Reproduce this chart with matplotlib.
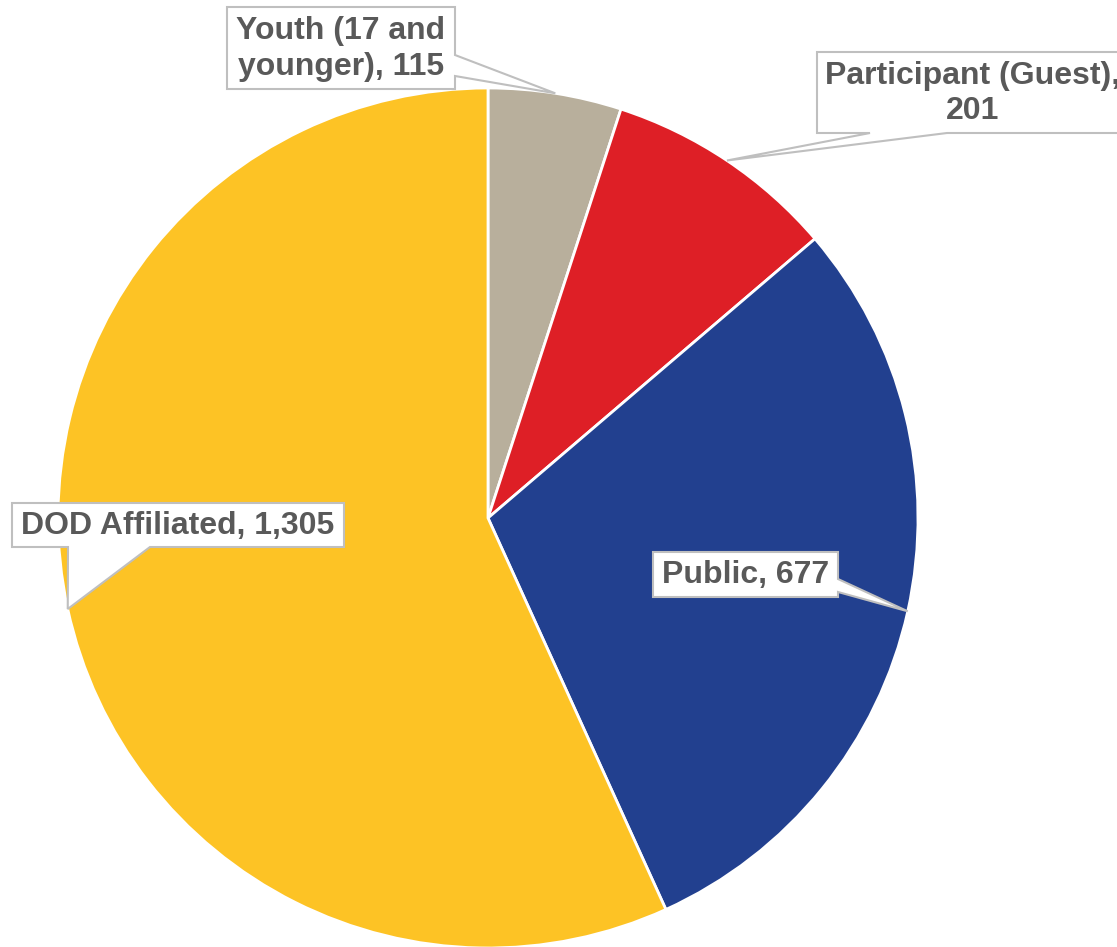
import numpy as np
import matplotlib
matplotlib.use("Agg")
import matplotlib.pyplot as plt
from matplotlib.patches import Polygon

categories = ["Youth (17 and\nyounger)", "Participant (Guest)", "Public", "DOD Affiliated"]
values = [115, 201, 677, 1305]
colors = ["#B8AF9C", "#DE1F26", "#22408F", "#FDC325"]

W, H = 1117, 947
fig = plt.figure(figsize=(W / 100, H / 100), dpi=100)
ax = fig.add_axes([0, 0, 1, 1])

cx, cy_px, R = 488, 518, 430
cy = H - cy_px

wedges, _ = ax.pie(values, colors=colors, startangle=90, counterclock=False,
                   center=(cx, cy), radius=R, frame=True,
                   wedgeprops=dict(edgecolor="white", linewidth=2))
ax.set_xlim(0, W)
ax.set_ylim(0, H)
ax.set_aspect("equal")
ax.axis("off")

def fmt(v):
    return f"{v:,}"

labels = ["Youth (17 and\nyounger), " + fmt(values[0]),
          "Participant (Guest),\n" + fmt(values[1]),
          "Public, " + fmt(values[2]),
          "DOD Affiliated, " + fmt(values[3])]

# box layout in pixel coords: (x0, y0, x1, y1), base points, side
boxes = [
    ((227, 7, 455, 89), [(455, 55), (455, 76)], "right"),
    ((817, 52, 1129, 133), [(947, 133), (870, 133)], "bottom"),
    ((653, 552, 838, 597), [(838, 579), (838, 592)], "right"),
    ((12, 503, 344, 547), [(150, 547), (68, 547)], "bottom"),
]

for w, lab, (box, base, side) in zip(wedges, labels, boxes):
    mid = np.deg2rad((w.theta1 + w.theta2) / 2)
    tip = (cx + R * np.cos(mid), cy + R * np.sin(mid))
    x0, y0, x1, y1 = box
    if side == "right":
        pts_px = [(x0, y0), (x1, y0), base[0], None, base[1], (x1, y1), (x0, y1)]
    else:
        pts_px = [(x0, y0), (x1, y0), (x1, y1), base[0], None, base[1], (x0, y1)]
    pts = [tip if p is None else (p[0], H - p[1]) for p in pts_px]
    poly = Polygon(pts, closed=True, facecolor="white", edgecolor="#BFBFBF",
                   linewidth=1.5, zorder=5, joinstyle="miter")
    ax.add_patch(poly)
    ax.text((x0 + x1) / 2, H - (y0 + y1) / 2 - 1, lab, ha="center", va="center",
            multialignment="center", fontsize=23, fontweight="bold",
            family=["Liberation Sans", "DejaVu Sans"], color="#595959",
            linespacing=1.25, zorder=6)

fig.savefig("out.png", dpi=100)
